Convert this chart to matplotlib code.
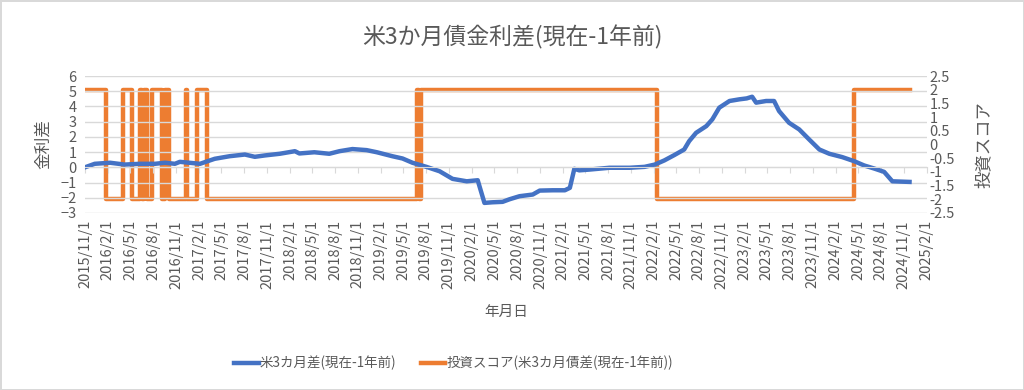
import matplotlib
matplotlib.use("Agg")
import matplotlib.pyplot as plt
import pandas as pd

plt.rcParams['font.family'] = ['Noto Sans CJK JP', 'DejaVu Sans']

GREY_TXT = '#595959'
GRID = '#d9d9d9'

# 米3カ月差(現在-1年前) : left axis
spread_dates = [
    '2015-11-01', '2015-12-10', '2016-02-10', '2016-04-08', '2016-06-08', '2016-08-08',
    '2016-09-17', '2016-10-27', '2016-11-16', '2017-02-05', '2017-03-07', '2017-04-05',
    '2017-06-04', '2017-08-04', '2017-09-13', '2017-10-23', '2017-12-22', '2018-02-21',
    '2018-03-11', '2018-05-10', '2018-07-09', '2018-08-19', '2018-10-10', '2018-12-06',
    '2019-01-16', '2019-03-19', '2019-04-29', '2019-06-08', '2019-08-03', '2019-09-25',
    '2019-11-16', '2020-01-12', '2020-02-25', '2020-03-03', '2020-03-23', '2020-04-24',
    '2020-06-04', '2020-07-02', '2020-08-11', '2020-10-03', '2020-10-31', '2020-12-22',
    '2021-02-09', '2021-03-01', '2021-03-19', '2021-04-08', '2021-05-18', '2021-08-07',
    '2021-10-27', '2021-12-26', '2022-02-05', '2022-03-15', '2022-04-24', '2022-06-03',
    '2022-06-23', '2022-07-21', '2022-08-31', '2022-09-24', '2022-10-22', '2022-12-02',
    '2023-01-11', '2023-02-09', '2023-03-03', '2023-03-19', '2023-04-28', '2023-05-30',
    '2023-06-19', '2023-07-29', '2023-09-08', '2023-10-18', '2023-11-28', '2024-01-07',
    '2024-02-28', '2024-04-16', '2024-05-26', '2024-07-05', '2024-08-14', '2024-09-16',
    '2024-11-24',
]
spread_values = [
    0.00, 0.23, 0.30, 0.18, 0.23, 0.23,
    0.30, 0.23, 0.36, 0.23, 0.40, 0.56,
    0.73, 0.84, 0.69, 0.78, 0.89, 1.06,
    0.91, 0.99, 0.89, 1.06, 1.20, 1.13,
    0.99, 0.73, 0.58, 0.30, 0.03, -0.26,
    -0.76, -0.92, -0.85, -1.24, -2.34, -2.30,
    -2.27, -2.10, -1.90, -1.79, -1.53, -1.51,
    -1.51, -1.35, -0.10, -0.20, -0.15, -0.03,
    -0.03, 0.03, 0.18, 0.45, 0.80, 1.17,
    1.72, 2.27, 2.71, 3.15, 3.92, 4.36,
    4.47, 4.53, 4.64, 4.25, 4.36, 4.36,
    3.70, 2.93, 2.49, 1.83, 1.17, 0.89,
    0.67, 0.40, 0.12, -0.08, -0.30, -0.92,
    -0.96,
]

# 投資スコア : right axis (value holds until next date)
score_dates = [
    '2015-11-01', '2016-01-24', '2016-03-31', '2016-05-06', '2016-06-08', '2016-06-18',
    '2016-06-24', '2016-07-08', '2016-07-29', '2016-09-04', '2016-09-19', '2016-10-05',
    '2016-12-10', '2016-12-16', '2017-01-23', '2017-03-05', '2019-06-26', '2019-07-04',
    '2019-07-12', '2022-02-14', '2024-04-16', '2024-11-24',
]
score_values = [
    2, -2, 2, -2, 2, -2,
    2, -2, 2, -2, 2, -2,
    2, -2, 2, -2, 2, -2,
    2, -2, 2, 2,
]

spread_x = pd.to_datetime(spread_dates)
score_x = pd.to_datetime(score_dates)
tick_dates = pd.date_range('2015-11-01', '2025-02-01', freq='3MS')
tick_labels = [f'{d.year}/{d.month}/{d.day}' for d in tick_dates]

fig = plt.figure(figsize=(10.24, 3.9), dpi=100, edgecolor=GRID, linewidth=2)
ax = fig.add_axes([0.083, 0.454, 0.822, 0.351])
ax2 = ax.twinx()

l1, = ax.plot(spread_x, spread_values, color='#4472C4', lw=3.2, label='米3カ月差(現在-1年前)')
l2, = ax2.plot(score_x, score_values, color='#ED7D31', lw=3.2, drawstyle='steps-post',
               label='投資スコア(米3カ月債差(現在-1年前))')
ax2.set_zorder(1)
ax.set_zorder(2)
ax.patch.set_visible(False)

ax.set_ylim(-3, 6)
ax.set_yticks(range(-3, 7))
ax2.set_ylim(-2.5, 2.5)
ax2.set_yticks([-2.5, -2, -1.5, -1, -0.5, 0, 0.5, 1, 1.5, 2, 2.5])
ax2.set_yticklabels(['-2.5', '-2', '-1.5', '-1', '-0.5', '0', '0.5', '1', '1.5', '2', '2.5'])

# x ticks set after all plotting so the date converter does not reset them
ax.set_xlim(tick_dates[0], tick_dates[-1])
ax.set_xticks(tick_dates)
ax.set_xticklabels(tick_labels)

ax.grid(axis='y', color=GRID, lw=1)
ax.set_axisbelow(True)
for a in (ax, ax2):
    for s in ('top', 'left', 'right'):
        a.spines[s].set_visible(False)
ax2.spines['bottom'].set_visible(False)
ax.spines['bottom'].set_position(('data', 0))
ax.spines['bottom'].set_color(GRID)

ax.tick_params(axis='x', colors=GRID, length=4, pad=34, labelcolor=GREY_TXT,
               labelsize=10.5, labelrotation=90)
ax.tick_params(axis='y', length=0, labelcolor=GREY_TXT, labelsize=10.5, pad=6)
ax2.tick_params(axis='y', length=0, labelcolor=GREY_TXT, labelsize=10.5, pad=2)

ax.set_ylabel('金利差', color=GREY_TXT, fontsize=12, labelpad=6)
ax2.set_ylabel('投資スコア', color=GREY_TXT, fontsize=12.5, labelpad=14)
fig.text(0.494, 0.2, '年月日', color=GREY_TXT, fontsize=10.5, ha='center', va='center')
fig.text(0.5, 0.905, '米3か月債金利差(現在-1年前)', color=GREY_TXT, fontsize=16.5,
         ha='center', va='center')

fig.legend(handles=[l1, l2], loc='center', bbox_to_anchor=(0.443, 0.069), ncol=2,
           frameon=False, fontsize=9.7, labelcolor=GREY_TXT, handlelength=1.8,
           handletextpad=0.1, columnspacing=1.8)

fig.savefig('out.png', dpi=100, edgecolor=GRID)
